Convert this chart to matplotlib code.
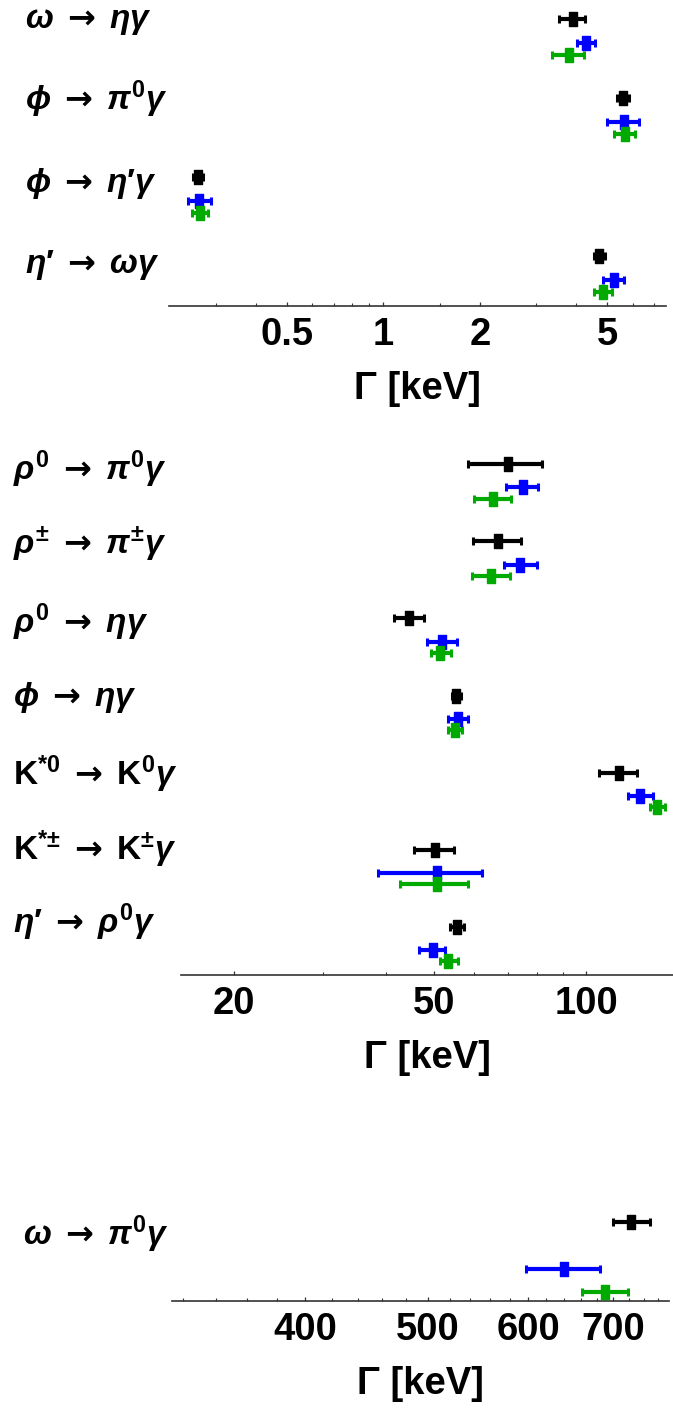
import matplotlib
matplotlib.use('Agg')
import matplotlib.pyplot as plt
import numpy as np
from matplotlib.ticker import FixedLocator, FixedFormatter, NullFormatter
from matplotlib.path import Path

plt.rcParams['font.family'] = ['Liberation Sans', 'DejaVu Sans']
plt.rcParams['font.weight'] = 'bold'
plt.rcParams['mathtext.fontset'] = 'custom'
plt.rcParams['mathtext.rm'] = 'DejaVu Sans:bold'
plt.rcParams['mathtext.sf'] = 'Liberation Sans:bold'
plt.rcParams['mathtext.it'] = 'Liberation Sans:italic:bold'
plt.rcParams['mathtext.bf'] = 'Liberation Sans:bold'

PR = r'\mathsf{' + '\u2032' + r'}'   # prime mark drawn as a plain glyph
PM = r'\mathsf{' + '\u00b1' + r'}'   # plus-minus without operator spacing
AR = r'\;\rightarrow\;'

# ---------------- data ----------------
# Panel 1 (keV)
p1_labels = [r'$\omega' + AR + r'\eta\gamma$',
             r'$\phi' + AR + r'\pi^{\mathsf{0}}\gamma$',
             r'$\phi' + AR + r'\eta' + PR + r'\gamma$',
             r'$\eta' + PR + AR + r'\omega\gamma$']
p1_exp = [3.90, 5.60, 0.264, 4.72]
p1_exp_err = [0.36, 0.25, 0.009, 0.19]
p1_blue = [4.29, 5.62, 0.267, 5.25]
p1_blue_lo = [0.27, 0.62, 0.021, 0.39]
p1_blue_hi = [0.29, 0.65, 0.0235, 0.39]
p1_green = [3.79, 5.68, 0.268, 4.86]
p1_green_lo = [0.42, 0.44, 0.015, 0.31]
p1_green_hi = [0.44, 0.42, 0.0155, 0.31]
p1_major = [0.5, 1, 2, 5]
p1_major_lab = ['0.5', '1', '2', '5']
p1_minor = [0.3, 0.4, 0.6, 0.7, 0.8, 0.9, 1.5, 3, 4, 6, 7]

# Panel 2 (keV)
p2_labels = [r'$\rho^{\mathsf{0}}' + AR + r'\pi^{\mathsf{0}}\gamma$',
             r'$\rho^{' + PM + r'}' + AR + r'\pi^{' + PM + r'}\gamma$',
             r'$\rho^{\mathsf{0}}' + AR + r'\eta\gamma$',
             r'$\phi' + AR + r'\eta\gamma$',
             r'$\mathsf{K}^{\mathsf{*0}}' + AR + r'\mathsf{K}^{\mathsf{0}}\gamma$',
             r'$\mathsf{K}^{\mathsf{*}' + PM + r'}' + AR + r'\mathsf{K}^{' + PM + r'}\gamma$',
             r'$\eta' + PR + AR + r'\rho^{\mathsf{0}}\gamma$']
p2_exp = [70.1, 67.0, 44.6, 55.3, 116.1, 50.2, 55.5]
p2_exp_err = [11.7, 7.4, 3.0, 1.1, 9.9, 4.6, 1.8]
p2_blue = [74.8, 74.1, 51.8, 55.7, 128.0, 50.5, 49.6]
p2_blue_lo = [5.4, 5.4, 3.5, 2.5, 6.8, 11.9, 2.9]
p2_blue_hi = [5.5, 5.7, 3.7, 2.7, 7.5, 11.7, 2.8]
p2_green = [65.4, 64.8, 51.4, 55.0, 138.5, 50.5, 53.3]
p2_green_lo = [5.4, 5.3, 2.2, 1.7, 4.8, 7.8, 2.1]
p2_green_hi = [5.5, 5.7, 2.5, 1.7, 5.1, 7.7, 2.5]
p2_major = [20, 50, 100]
p2_major_lab = ['20', '50', '100']
p2_minor = [30, 40, 60, 70, 80, 90]

# Panel 3 (keV)
p3_labels = [r'$\omega' + AR + r'\pi^{\mathsf{0}}\gamma$']
p3_exp = [723.8]
p3_exp_err = [24.3]
p3_blue = [640.8]
p3_blue_lo = [43.3]
p3_blue_hi = [42.2]
p3_green = [689.3]
p3_green_lo = [28.3]
p3_green_hi = [29.4]
p3_major = [400, 500, 600, 700]
p3_major_lab = ['400', '500', '600', '700']
p3_minor = [320, 340, 360, 380, 420, 440, 460, 480, 520, 540, 560, 580,
            620, 640, 660, 680, 720, 740, 760]

BLACK, BLUE, GREEN = '#000000', '#0000FF', '#00AA00'
W, H = 673, 1408

fig = plt.figure(figsize=(W / 100, H / 100), dpi=100)

rect = Path([(-0.32, -0.5), (0.32, -0.5), (0.32, 0.5), (-0.32, 0.5), (-0.32, -0.5)],
            [Path.MOVETO, Path.LINETO, Path.LINETO, Path.LINETO, Path.CLOSEPOLY])


def px_axes(x0, x1, ytop, ybot):
    return fig.add_axes([x0 / W, 1 - ybot / H, (x1 - x0) / W, (ybot - ytop) / H])


def series(ax, rows, vals, lo, hi, color, off):
    y = np.asarray(rows, dtype=float) + off
    ax.errorbar(vals, y, xerr=[lo, hi], fmt='none', ecolor=color, elinewidth=3.0,
                capsize=3.1, capthick=2.2, clip_on=False, zorder=3)
    ax.plot(vals, y, ls='none', marker=rect, ms=10, color=color, clip_on=False, zorder=4)


def style(ax, xlim, ylim, major, major_lab, minor):
    ax.set_xscale('log')
    ax.set_xlim(*xlim)
    ax.set_ylim(*ylim)
    for s in ['left', 'right', 'top']:
        ax.spines[s].set_visible(False)
    ax.spines['bottom'].set_linewidth(1.2)
    ax.spines['bottom'].set_color('#333333')
    ax.set_yticks([])
    ax.xaxis.set_major_locator(FixedLocator(major))
    ax.xaxis.set_major_formatter(FixedFormatter(major_lab))
    ax.xaxis.set_minor_locator(FixedLocator(minor))
    ax.xaxis.set_minor_formatter(NullFormatter())
    ax.tick_params(axis='x', which='major', direction='in', length=3.2, width=0.9,
                   color='#333333', labelsize=27.5, pad=8)
    ax.tick_params(axis='x', which='minor', direction='in', length=2.0, width=0.8,
                   color='#333333')
    for t in ax.get_xticklabels():
        t.set_fontweight('bold')
    ax.set_xlabel('Γ [keV]', fontsize=27.5, fontweight='bold', labelpad=13)
    ax.patch.set_alpha(0)


def panel(ax, exp, exp_err, blue, blue_lo, blue_hi, green, green_lo, green_hi):
    n = len(exp)
    rows = list(range(n, 0, -1))
    series(ax, rows, exp, exp_err, exp_err, BLACK, 0.0)
    series(ax, rows, blue, blue_lo, blue_hi, BLUE, -0.30)
    series(ax, rows, green, green_lo, green_hi, GREEN, -0.45)


# Panel 1
ax1 = px_axes(169, 666, 0, 306)
panel(ax1, p1_exp, p1_exp_err, p1_blue, p1_blue_lo, p1_blue_hi,
      p1_green, p1_green_lo, p1_green_hi)
style(ax1, (0.2145, 7.62), (0.367, 4.244), p1_major, p1_major_lab, p1_minor)

# Panel 2
ax2 = px_axes(181, 673, 440, 975)
panel(ax2, p2_exp, p2_exp_err, p2_blue, p2_blue_lo, p2_blue_hi,
      p2_green, p2_green_lo, p2_green_hi)
style(ax2, (15.7, 148.8), (0.373, 7.316), p2_major, p2_major_lab, p2_minor)

# Panel 3
ax3 = px_axes(172.3, 669, 1180, 1301)
panel(ax3, p3_exp, p3_exp_err, p3_blue, p3_blue_lo, p3_blue_hi,
      p3_green, p3_green_lo, p3_green_hi)
style(ax3, (314, 775), (0.491, 1.273), p3_major, p3_major_lab, p3_minor)

# Process labels (left column)
lab_x = [25, 13, 22.7]
lab_base = [[28.3, 110, 191.6, 273.3],
            [480, 553.3, 633, 706, 785, 860, 933],
            [1245]]
for labs, x, bases in zip([p1_labels, p2_labels, p3_labels], lab_x, lab_base):
    for lab, yb in zip(labs, bases):
        fig.text(x / W, 1 - yb / H, lab, fontsize=24, ha='left', va='baseline')

fig.savefig('out.png', dpi=100)
